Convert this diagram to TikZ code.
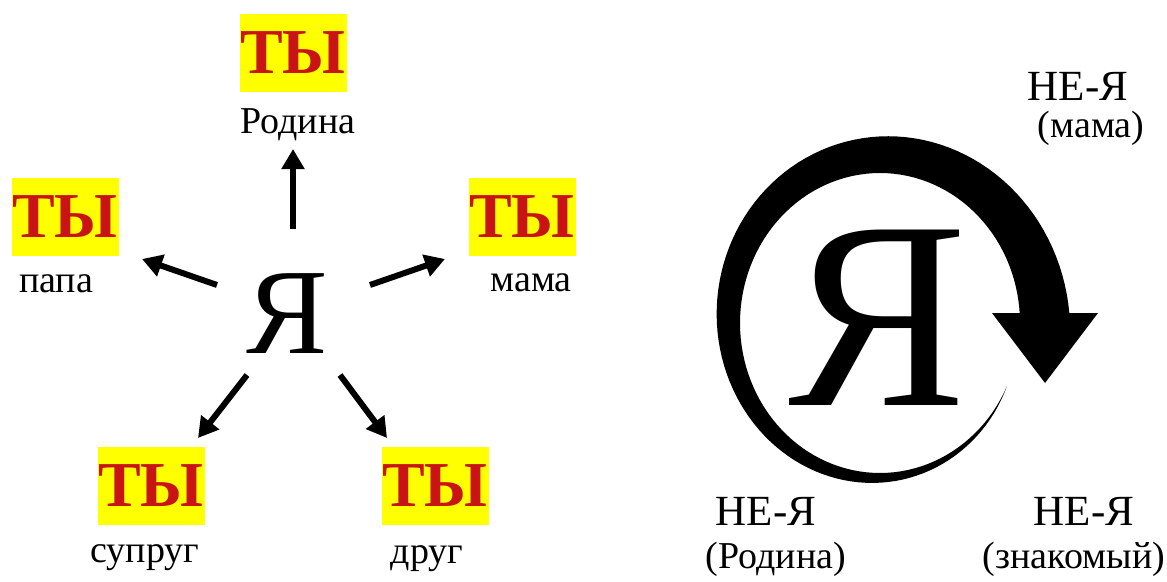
\documentclass[tikz,border=0pt]{standalone}
\usepackage{fontspec}
\setmainfont{Liberation Serif}
\usetikzlibrary{arrows.meta,positioning,calc}
\definecolor{tyred}{RGB}{200,20,20}
\definecolor{tyyellow}{RGB}{255,255,0}

\begin{document}
\begin{tikzpicture}[x=1pt, y=-1pt,
    tybox/.style={rectangle, fill=tyyellow, text=tyred, font=\fontsize{64}{64}\selectfont\bfseries, minimum width=107pt, minimum height=78pt, inner sep=0pt},
    lbl/.style={font=\fontsize{38}{38}\selectfont, inner sep=0pt, anchor=base},
    nelbl/.style={font=\fontsize{43}{43}\selectfont, inner sep=0pt, anchor=base},
    sublbl/.style={font=\fontsize{38}{38}\selectfont, inner sep=0pt, anchor=base},
    arr/.style={-{Triangle[length=20pt, width=22pt]}, line width=6pt}]

    \useasboundingbox (0,0) rectangle (1167,581);

    % left: ya and the five ty
    \node[font=\fontsize{122}{122}\selectfont, inner sep=0pt, anchor=base] (ya) at (287,353) {Я};

    \node[tybox] (tyTop) at (293,53) {ТЫ};
    \node[tybox] (tyLeft) at (65,217) {ТЫ};
    \node[tybox] (tyRight) at (522,217) {ТЫ};
    \node[tybox] (tyBL) at (151,486) {ТЫ};
    \node[tybox] (tyBR) at (435,486) {ТЫ};

    \node[lbl] (rodina) at (298,133) {Родина};
    \node[lbl] (papa) at (56,292) {папа};
    \node[lbl] (mama) at (531,291) {мама};
    \node[lbl] (suprug) at (145,562) {супруг};
    \node[lbl] (drug) at (427,563) {друг};

    \coordinate (upS) at (293,229);  \coordinate (upE) at (293,149);
    \coordinate (lS) at (217,285);   \coordinate (lE) at (142,259);
    \coordinate (rS) at (370,285);   \coordinate (rE) at (445,259);
    \coordinate (blS) at (247,375);  \coordinate (blE) at (198,438);
    \coordinate (brS) at (340,375);  \coordinate (brE) at (387,438);

    \draw[arr] (upS) -- (upE);
    \draw[arr] (lS) -- (lE);
    \draw[arr] (rS) -- (rE);
    \draw[arr] (blS) -- (blE);
    \draw[arr] (brS) -- (brE);

    % right: ya inside the turning arrow
    \fill plot[domain=25:360, samples=120] ({880+140*cos(\x)}, {323+150*sin(\x)})
        -- plot[domain=360:25, samples=120] ({880+(140+0.1493*(\x-25))*cos(\x)}, {323+(150+0.1493*(\x-25))*sin(\x)})
        -- cycle;
    \coordinate (tipL) at (992,313);
    \coordinate (tipR) at (1098,313);
    \coordinate (tip) at (1045,383);
    \fill (tipL) -- (tipR) -- (tip) -- cycle;

    \node[font=\fontsize{268}{268}\selectfont, inner sep=0pt, anchor=base] (yaBig) at (878,405) {Я};

    \node[nelbl] (neMama) at (1078,100) {НЕ-Я};
    \node[sublbl] (mamaSub) at (1091,137) {(мама)};
    \node[nelbl] (neRodina) at (766,525) {НЕ-Я};
    \node[sublbl] (rodinaSub) at (776,568) {(Родина)};
    \node[nelbl] (neZnak) at (1084,525) {НЕ-Я};
    \node[sublbl] (znakSub) at (1074,568) {(знакомый)};

\end{tikzpicture}
\end{document}
